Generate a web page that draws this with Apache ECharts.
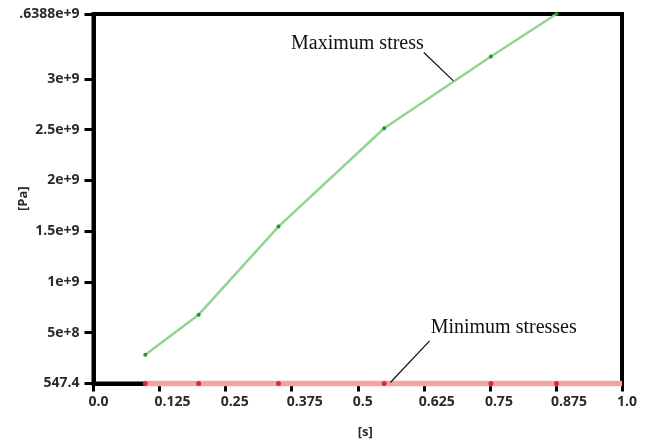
<!DOCTYPE html>
<html>
<head>
<meta charset="utf-8">
<script src="https://cdn.jsdelivr.net/npm/echarts@6/dist/echarts.min.js"></script>
<style>html,body{margin:0;padding:0;background:#fff}#c{width:646px;height:443px}</style>
</head>
<body>
<div id="c"></div>
<script>
// ---- data ----
const maxTimes = [0.098, 0.199, 0.350, 0.550, 0.752, 0.876];
const maxStress = [0.284e9, 0.678e9, 1.545e9, 2.514e9, 3.22e9, 3.6388e9];
const minTimes = [0.098, 0.199, 0.350, 0.550, 0.752, 0.876, 1.0];
const minStress = [547.4, 547.4, 547.4, 547.4, 547.4, 547.4, 547.4];
const yTickValues = [547.4, 5e8, 1e9, 1.5e9, 2e9, 2.5e9, 3e9, 3.6388e9];
const yTickLabels = ['547.4', '5e+8', '1e+9', '1.5e+9', '2e+9', '2.5e+9', '3e+9', '.6388e+9'];
const xTickLabels = ['0.0', '0.125', '0.25', '0.375', '0.5', '0.625', '0.75', '0.875', '1.0'];
const annMax = {text: 'Maximum stress', from: [0.625, 3.26e9], to: [0.681, 2.98e9]};
const annMin = {text: 'Minimum stresses', from: [0.636, 0.42e9], to: [0.556, 547.4]};

const chart = echarts.init(document.getElementById('c'), null, {renderer: 'canvas'});
const labelFont = {fontFamily: 'Open Sans', fontWeight: 'bold', fontSize: 14, color: '#2a2a2a'};

chart.setOption({
  animation: false,
  backgroundColor: '#fff',
  grid: {left: 93.5, right: 24, top: 14, bottom: 59.5, show: true, borderColor: '#000', borderWidth: 4,
         backgroundColor: 'transparent', containLabel: false, outerBoundsMode: 'none'},
  xAxis: {
    type: 'value', min: 0, max: 1, interval: 0.125,
    name: '[s]', nameLocation: 'middle', nameGap: 42, nameMoveOverlap: false,
    nameTextStyle: Object.assign({}, labelFont, {fontSize: 13, align: 'left'}),
    axisLine: {show: true, lineStyle: {color: '#000', width: 4}},
    axisTick: {show: true, length: 8, lineStyle: {color: '#000', width: 3}},
    splitLine: {show: false},
    axisLabel: Object.assign({}, labelFont, {
      margin: 12, align: 'left', padding: [0, 0, 0, -5],
      formatter: (v) => { const i = Math.round(v / 0.125); return xTickLabels[i] !== undefined ? xTickLabels[i] : ''; }
    })
  },
  yAxis: {
    type: 'value', min: 547.4, max: 3.6388e9,
    name: '[Pa]', nameLocation: 'middle', nameGap: 64, nameRotate: 90, nameMoveOverlap: false,
    nameTextStyle: Object.assign({}, labelFont, {fontSize: 13}),
    axisLine: {show: true, lineStyle: {color: '#000', width: 4}},
    axisTick: {show: true, length: 9, customValues: yTickValues, lineStyle: {color: '#000', width: 3}},
    splitLine: {show: false},
    axisLabel: Object.assign({}, labelFont, {
      margin: 14, customValues: yTickValues,
      formatter: (v) => { const i = yTickValues.indexOf(v); return i >= 0 ? yTickLabels[i] : ''; }
    })
  },
  series: [
    {
      type: 'line', name: 'Maximum stress',
      data: maxTimes.map((t, i) => [t, maxStress[i]]),
      symbol: 'circle', symbolSize: 4,
      lineStyle: {color: '#92d492', width: 2.5},
      itemStyle: {color: '#1f9a2a'},
      clip: false, z: 3
    },
    {
      type: 'line', name: 'Minimum stresses',
      data: minTimes.map((t, i) => [t, minStress[i]]),
      symbol: 'circle',
      symbolSize: (v, p) => (p.dataIndex === minTimes.length - 1 ? 0 : 5),
      lineStyle: {color: '#f4a3a3', width: 5.5},
      itemStyle: {color: '#e02a2a'},
      clip: false, z: 3
    }
  ]
});

function px(p) { return chart.convertToPixel({gridIndex: 0}, p); }
const mf = px(annMax.from), mt = px(annMax.to);
const nf = px(annMin.from), nt = px(annMin.to);
const annFont = {fontFamily: 'Liberation Serif', fontSize: 20, fill: '#111'};
chart.setOption({
  graphic: [
    {type: 'line', shape: {x1: mf[0], y1: mf[1], x2: mt[0], y2: mt[1]}, style: {stroke: '#111', lineWidth: 1.2}, z: 10},
    {type: 'text', x: mf[0], y: mf[1] - 9, style: Object.assign({text: annMax.text, align: 'right', verticalAlign: 'middle'}, annFont), z: 10},
    {type: 'line', shape: {x1: nf[0], y1: nf[1], x2: nt[0] + 3, y2: nt[1] - 1}, style: {stroke: '#111', lineWidth: 1.2}, z: 10},
    {type: 'text', x: nf[0] + 1, y: nf[1] - 13, style: Object.assign({text: annMin.text, align: 'left', verticalAlign: 'middle'}, annFont), z: 10}
  ]
});
</script>
</body>
</html>
